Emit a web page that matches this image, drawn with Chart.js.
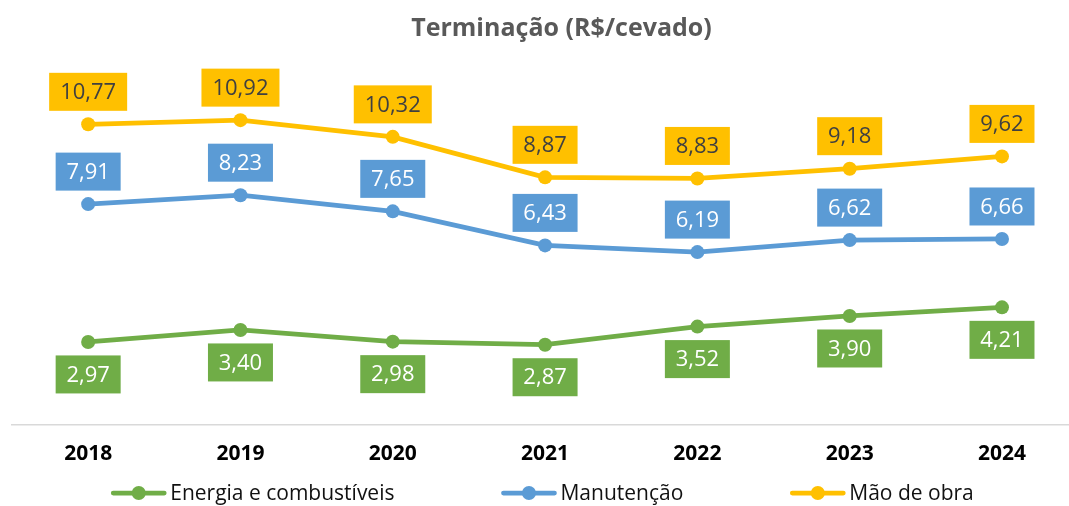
<!DOCTYPE html>
<html>
<head>
<meta charset="utf-8">
<script src="https://cdn.jsdelivr.net/npm/chart.js@4.4.1/dist/chart.umd.min.js"></script>
<style>
  html, body { margin: 0; padding: 0; background: #ffffff; }
  #wrap { width: 1069px; height: 506px; position: relative; }
</style>
</head>
<body>
<div id="wrap"><canvas id="c" width="1069" height="506"></canvas></div>
<script>
const chartTitle = 'Terminação (R$/cevado)';
const categories = ['2018', '2019', '2020', '2021', '2022', '2023', '2024'];
const seriesNames = ['Energia e combustíveis', 'Manutenção', 'Mão de obra'];
const energia = [2.97, 3.40, 2.98, 2.87, 3.52, 3.90, 4.21];
const manutencao = [7.91, 8.23, 7.65, 6.43, 6.19, 6.62, 6.66];
const maoDeObra = [10.77, 10.92, 10.32, 8.87, 8.83, 9.18, 9.62];

const FONT = "'Open Sans', 'Noto Sans', sans-serif";
const colors = ['#70AD47', '#5B9BD5', '#FFC000'];
const labelText = ['#ffffff', '#ffffff', '#404040'];
const labelSide = ['below', 'above', 'above'];

function toPoints(arr) { return arr.map((v, i) => ({ x: i, y: v })); }
function fmt(v) { return v.toFixed(2).replace('.', ','); }

const seriesValues = [energia, manutencao, maoDeObra];

const datasets = seriesValues.map((vals, k) => ({
  label: seriesNames[k],
  data: toPoints(vals),
  borderColor: colors[k],
  backgroundColor: colors[k],
  pointBackgroundColor: colors[k],
  pointBorderColor: colors[k],
  borderWidth: 4.75,
  pointRadius: 7,
  pointBorderWidth: 0,
  tension: 0,
  clip: false
}));

const titlePlugin = {
  id: 'customTitle',
  afterDraw(chart) {
    const ctx = chart.ctx;
    ctx.save();
    ctx.font = "bold 25px " + FONT;
    ctx.fillStyle = '#595959';
    ctx.textAlign = 'center';
    ctx.textBaseline = 'middle';
    ctx.fillText(chartTitle, chart.width / 2 + 27, 29);
    ctx.restore();
  }
};

const labelPlugin = {
  id: 'boxLabels',
  afterDatasetsDraw(chart) {
    const ctx = chart.ctx;
    ctx.save();
    ctx.font = "22px " + FONT;
    ctx.textAlign = 'center';
    ctx.textBaseline = 'middle';
    chart.data.datasets.forEach((ds, k) => {
      const meta = chart.getDatasetMeta(k);
      meta.data.forEach((pt, i) => {
        const txt = fmt(seriesValues[k][i]);
        const tw = ctx.measureText(txt).width;
        const w = Math.round(tw + 22);
        const h = 38;
        const gap = 13.5;
        const x = pt.x - w / 2;
        const y = labelSide[k] === 'above' ? pt.y - gap - h : pt.y + gap;
        ctx.fillStyle = colors[k];
        ctx.fillRect(x, y, w, h);
        ctx.fillStyle = labelText[k];
        ctx.fillText(txt, pt.x, y + h / 2 + 1);
      });
    });
    ctx.restore();
  }
};

const legendPlugin = {
  id: 'customLegend',
  afterDraw(chart) {
    const ctx = chart.ctx;
    ctx.save();
    ctx.font = "21px " + FONT;
    ctx.textBaseline = 'middle';
    ctx.textAlign = 'left';
    const lineW = 55, gapText = 4, gapItem = 107;
    const widths = seriesNames.map(n => lineW + gapText + ctx.measureText(n).width);
    const total = widths.reduce((a, b) => a + b, 0) + gapItem * (widths.length - 1);
    let x = chart.width / 2 + 8 - total / 2;
    const y = 493;
    seriesNames.forEach((n, k) => {
      ctx.strokeStyle = colors[k];
      ctx.lineWidth = 4.75;
      ctx.lineCap = 'round';
      ctx.beginPath();
      ctx.moveTo(x + 2, y);
      ctx.lineTo(x + lineW - 2, y);
      ctx.stroke();
      ctx.fillStyle = colors[k];
      ctx.beginPath();
      ctx.arc(x + lineW / 2, y, 7, 0, Math.PI * 2);
      ctx.fill();
      ctx.fillStyle = '#111111';
      ctx.fillText(n, x + lineW + gapText, y + 1);
      x += widths[k] + gapItem;
    });
    ctx.restore();
  }
};

new Chart(document.getElementById('c'), {
  type: 'line',
  data: { datasets },
  options: {
    responsive: false,
    animation: false,
    devicePixelRatio: 1,
    layout: { autoPadding: false, padding: { top: 90, left: 12, right: 0, bottom: 22 } },
    plugins: {
      legend: { display: false },
      title: { display: false },
      tooltip: { enabled: false }
    },
    scales: {
      x: {
        type: 'linear',
        min: -0.5,
        max: 6.44,
        grid: { display: false, drawTicks: false },
        border: { display: true, color: '#d9d9d9', width: 1.5 },
        afterBuildTicks(scale) {
          scale.ticks = categories.map((c, i) => ({ value: i }));
        },
        ticks: {
          padding: 17,
          color: '#000000',
          font: { family: FONT, size: 21, weight: 'bold' },
          maxRotation: 0,
          autoSkip: false,
          callback: (v) => categories[v]
        }
      },
      y: {
        display: false,
        min: 0,
        max: 12
      }
    }
  },
  plugins: [titlePlugin, labelPlugin, legendPlugin]
});
</script>
</body>
</html>
